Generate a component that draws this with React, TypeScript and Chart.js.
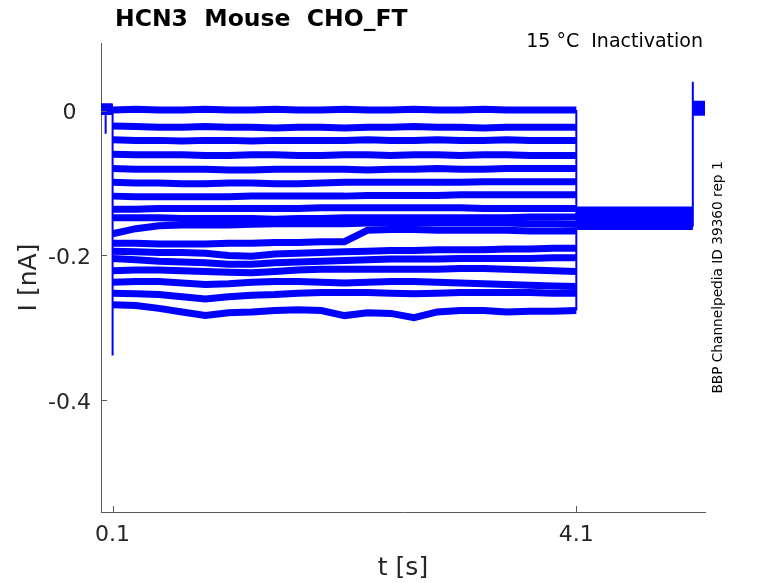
import React, { useEffect, useRef } from "react";
import { Chart, registerables } from "chart.js";

Chart.register(...registerables);

// ---- data (nA vs s) ----
const STEP_TIMES = [0.1, 0.3, 0.5, 0.7, 0.9, 1.1, 1.3, 1.5, 1.7, 1.9, 2.1, 2.3, 2.5, 2.7, 2.9, 3.1, 3.3, 3.5, 3.7, 3.9, 4.1];

const TRACE_A = [0.001, 0.002, 0.001, 0.001, 0.002, 0.001, 0.001, 0.002, 0.001, 0.001, 0.002, 0.001, 0.001, 0.002, 0.001, 0.001, 0.002, 0.001, 0.001, 0.001, 0.001];
const TRACE_B = [-0.021, -0.022, -0.023, -0.023, -0.022, -0.023, -0.023, -0.024, -0.023, -0.023, -0.024, -0.023, -0.023, -0.022, -0.023, -0.023, -0.024, -0.023, -0.023, -0.023, -0.023];
const TRACE_C = [-0.040, -0.041, -0.041, -0.042, -0.041, -0.041, -0.042, -0.041, -0.041, -0.041, -0.041, -0.040, -0.041, -0.041, -0.040, -0.041, -0.041, -0.040, -0.041, -0.041, -0.041];
const TRACE_D = [-0.060, -0.061, -0.061, -0.061, -0.062, -0.062, -0.061, -0.061, -0.062, -0.062, -0.061, -0.061, -0.062, -0.061, -0.061, -0.062, -0.061, -0.061, -0.062, -0.062, -0.062];
const TRACE_E = [-0.080, -0.081, -0.081, -0.081, -0.081, -0.082, -0.082, -0.081, -0.081, -0.081, -0.081, -0.082, -0.081, -0.081, -0.080, -0.081, -0.081, -0.080, -0.080, -0.080, -0.080];
const TRACE_F = [-0.099, -0.100, -0.100, -0.101, -0.101, -0.100, -0.100, -0.101, -0.101, -0.100, -0.099, -0.099, -0.099, -0.099, -0.099, -0.099, -0.098, -0.098, -0.098, -0.098, -0.098];
const TRACE_G = [-0.118, -0.119, -0.119, -0.119, -0.119, -0.119, -0.118, -0.118, -0.118, -0.118, -0.118, -0.117, -0.117, -0.117, -0.117, -0.116, -0.116, -0.116, -0.116, -0.116, -0.116];
const TRACE_H = [-0.136, -0.136, -0.135, -0.135, -0.135, -0.135, -0.135, -0.135, -0.135, -0.134, -0.134, -0.134, -0.134, -0.134, -0.134, -0.134, -0.135, -0.135, -0.135, -0.135, -0.135];
const TRACE_I = [-0.148, -0.148, -0.148, -0.149, -0.149, -0.149, -0.149, -0.150, -0.149, -0.149, -0.148, -0.148, -0.148, -0.148, -0.148, -0.148, -0.148, -0.148, -0.147, -0.147, -0.147];
const TRACE_J = [-0.170, -0.163, -0.159, -0.158, -0.158, -0.158, -0.157, -0.156, -0.156, -0.156, -0.156, -0.155, -0.155, -0.155, -0.155, -0.155, -0.155, -0.155, -0.156, -0.156, -0.157];
const TRACE_K = [-0.183, -0.183, -0.184, -0.184, -0.184, -0.183, -0.183, -0.182, -0.182, -0.181, -0.181, -0.165, -0.164, -0.164, -0.165, -0.165, -0.165, -0.165, -0.166, -0.166, -0.166];
const TRACE_L = [-0.194, -0.195, -0.196, -0.196, -0.197, -0.200, -0.201, -0.198, -0.197, -0.196, -0.195, -0.194, -0.193, -0.193, -0.192, -0.192, -0.192, -0.191, -0.191, -0.190, -0.190];
const TRACE_M = [-0.204, -0.206, -0.208, -0.209, -0.210, -0.212, -0.212, -0.210, -0.209, -0.208, -0.207, -0.206, -0.205, -0.205, -0.205, -0.204, -0.204, -0.204, -0.204, -0.203, -0.203];
const TRACE_N = [-0.221, -0.220, -0.220, -0.221, -0.222, -0.223, -0.224, -0.222, -0.220, -0.219, -0.219, -0.219, -0.219, -0.219, -0.219, -0.218, -0.218, -0.219, -0.220, -0.221, -0.222];
const TRACE_O = [-0.237, -0.236, -0.236, -0.238, -0.240, -0.239, -0.237, -0.236, -0.236, -0.237, -0.238, -0.237, -0.236, -0.236, -0.237, -0.238, -0.239, -0.240, -0.241, -0.242, -0.243];
const TRACE_P = [-0.252, -0.253, -0.254, -0.257, -0.260, -0.257, -0.255, -0.254, -0.252, -0.251, -0.251, -0.251, -0.252, -0.253, -0.252, -0.251, -0.251, -0.251, -0.251, -0.252, -0.252];
const TRACE_Q = [-0.268, -0.269, -0.273, -0.278, -0.283, -0.279, -0.278, -0.276, -0.275, -0.276, -0.283, -0.279, -0.280, -0.286, -0.278, -0.276, -0.276, -0.278, -0.277, -0.277, -0.276];

const STEP_TRACES = [TRACE_A, TRACE_B, TRACE_C, TRACE_D, TRACE_E, TRACE_F, TRACE_G, TRACE_H, TRACE_I, TRACE_J, TRACE_K, TRACE_L, TRACE_M, TRACE_N, TRACE_O, TRACE_P, TRACE_Q];

const PRE_LEVELS = [0.003, 0.001, 0.004, 0.000, 0.002, 0.005, 0.001, 0.003, -0.001, 0.002, 0.004, 0.000, 0.003, 0.002, 0.005, 0.001, 0.002];
const POST_LEVELS = [-0.140, -0.146, -0.152, -0.137, -0.158, -0.144, -0.150, -0.155, -0.141, -0.148, -0.160, -0.143, -0.153, -0.138, -0.156, -0.147, -0.151];
const END_LEVELS = [0.004, 0.008, 0.000, 0.006, 0.002, 0.009, -0.001, 0.005, 0.003, 0.007, 0.001, 0.006, 0.004, -0.002, 0.008, 0.002, 0.005];

const T_START = 0;
const T_STEP_ON = 0.1;
const T_STEP_OFF = 4.1;
const T_TEST_OFF = 5.105;
const T_END = 5.21;
const ARTIFACT_T = 0.04;
const ARTIFACT_I = -0.032;
const ON_TRANSIENT_I = -0.338;
const OFF_TRANSIENT_I = 0.04;

const X_TICKS = [0.1, 4.1];
const Y_TICKS = [0, -0.2, -0.4];
const X_MIN = 0;
const X_MAX = 5.21;
const Y_MIN = -0.5543;
const Y_MAX = 0.0935;

const TITLE = "HCN3  Mouse  CHO_FT";
const SUBTITLE = "15 °C  Inactivation";
const SIDE_TEXT = "BBP Channelpedia ID 39360 rep 1";
const X_LABEL = "t [s]";
const Y_LABEL = "I [nA]";

const BLUE = "#0000ff";
const AXIS_COLOR = "#5a5a5a";
const TEXT_COLOR = "#262626";
const FONT = "'DejaVu Sans', 'Liberation Sans', sans-serif";

type P = { x: number; y: number | null };

function buildDatasets() {
  const sets: any[] = [];
  STEP_TRACES.forEach((trace, i) => {
    const data: P[] = [
      { x: T_START, y: PRE_LEVELS[i] },
      { x: T_STEP_ON, y: PRE_LEVELS[i] },
      { x: T_STEP_ON, y: null },
      ...STEP_TIMES.map((t, k) => ({ x: t, y: trace[k] })),
      { x: T_STEP_OFF, y: null },
      { x: T_STEP_OFF, y: POST_LEVELS[i] },
      { x: T_TEST_OFF, y: POST_LEVELS[i] },
      { x: T_TEST_OFF, y: null },
      { x: T_TEST_OFF, y: END_LEVELS[i] },
      { x: T_END, y: END_LEVELS[i] },
    ];
    sets.push({
      data,
      borderColor: BLUE,
      borderWidth: 7,
      borderCapStyle: "butt",
      pointRadius: 0,
      tension: 0,
      spanGaps: false,
    });
  });
  const conn: P[] = [];
  STEP_TRACES.forEach((trace, i) => {
    conn.push({ x: T_STEP_ON, y: PRE_LEVELS[i] }, { x: T_STEP_ON, y: trace[0] }, { x: T_STEP_ON, y: null });
    conn.push({ x: T_STEP_OFF, y: trace[trace.length - 1] }, { x: T_STEP_OFF, y: POST_LEVELS[i] }, { x: T_STEP_OFF, y: null });
    conn.push({ x: T_TEST_OFF, y: POST_LEVELS[i] }, { x: T_TEST_OFF, y: END_LEVELS[i] }, { x: T_TEST_OFF, y: null });
  });
  conn.push({ x: ARTIFACT_T, y: PRE_LEVELS[0] }, { x: ARTIFACT_T, y: ARTIFACT_I }, { x: ARTIFACT_T, y: null });
  conn.push({ x: T_STEP_ON, y: PRE_LEVELS[16] }, { x: T_STEP_ON, y: ON_TRANSIENT_I }, { x: T_STEP_ON, y: null });
  conn.push({ x: T_TEST_OFF, y: POST_LEVELS[10] }, { x: T_TEST_OFF, y: OFF_TRANSIENT_I });
  sets.push({
    data: conn,
    borderColor: BLUE,
    borderWidth: 2,
    pointRadius: 0,
    tension: 0,
    spanGaps: false,
  });
  return sets;
}

const overlayPlugin = {
  id: "overlay",
  afterDraw(chart: any) {
    const { ctx, chartArea, scales } = chart;
    ctx.save();
    ctx.strokeStyle = AXIS_COLOR;
    ctx.lineWidth = 1;
    X_TICKS.forEach((v) => {
      const px = Math.round(scales.x.getPixelForValue(v)) + 0.5;
      ctx.beginPath();
      ctx.moveTo(px, chartArea.bottom);
      ctx.lineTo(px, chartArea.bottom - 6);
      ctx.stroke();
    });
    Y_TICKS.forEach((v) => {
      const py = Math.round(scales.y.getPixelForValue(v)) + 0.5;
      ctx.beginPath();
      ctx.moveTo(chartArea.left, py);
      ctx.lineTo(chartArea.left + 6, py);
      ctx.stroke();
    });

    ctx.fillStyle = "#000";
    ctx.textBaseline = "alphabetic";
    ctx.textAlign = "left";
    ctx.font = `bold 23.5px ${FONT}`;
    ctx.fillText(TITLE, 115, 26);

    ctx.textAlign = "right";
    ctx.font = `19px ${FONT}`;
    ctx.fillText(SUBTITLE, 703, 47);

    ctx.translate(721.5, 277.5);
    ctx.rotate(-Math.PI / 2);
    ctx.textAlign = "center";
    ctx.font = `13.7px ${FONT}`;
    ctx.fillText(SIDE_TEXT, 0, 0);
    ctx.restore();
  },
};

export default function App() {
  const ref = useRef<HTMLCanvasElement | null>(null);
  useEffect(() => {
    if (!ref.current) return;
    const chart = new Chart(ref.current, {
      type: "line",
      data: { datasets: buildDatasets() },
      options: {
        animation: false,
        responsive: false,
        devicePixelRatio: 1,
        layout: { padding: { left: 0, top: 43, right: 73, bottom: 0 } },
        plugins: {
          legend: { display: false },
          tooltip: { enabled: false },
          title: { display: false },
        },
        scales: {
          x: {
            type: "linear",
            min: X_MIN,
            max: X_MAX,
            grid: { display: false, drawTicks: false },
            border: { display: true, color: AXIS_COLOR, width: 1 },
            afterBuildTicks: (s: any) => {
              s.ticks = X_TICKS.map((v) => ({ value: v }));
            },
            afterFit: (s: any) => {
              s.height = 71;
            },
            ticks: {
              autoSkip: false,
              maxRotation: 0,
              padding: 10,
              color: TEXT_COLOR,
              font: { family: FONT, size: 22 },
              callback: (v: any) => String(v),
            },
            title: {
              display: true,
              text: X_LABEL,
              color: TEXT_COLOR,
              font: { family: FONT, size: 25 },
              padding: { top: 0, bottom: 0 },
            },
          },
          y: {
            type: "linear",
            min: Y_MIN,
            max: Y_MAX,
            grid: { display: false, drawTicks: false },
            border: { display: true, color: AXIS_COLOR, width: 1 },
            afterBuildTicks: (s: any) => {
              s.ticks = Y_TICKS.map((v) => ({ value: v }));
            },
            afterFit: (s: any) => {
              s.width = 101;
            },
            ticks: {
              autoSkip: false,
              padding: 10,
              labelOffset: 2.5,
              crossAlign: "center",
              color: TEXT_COLOR,
              font: { family: FONT, size: 22 },
              callback: (v: any) => String(v),
            },
            title: {
              display: true,
              text: Y_LABEL,
              color: TEXT_COLOR,
              font: { family: FONT, size: 25 },
              padding: { top: 14, bottom: 0 },
            },
          },
        },
      },
      plugins: [overlayPlugin],
    } as any);
    return () => chart.destroy();
  }, []);
  return (
    <div style={{ position: "fixed", left: 0, top: 0, width: 778, height: 583, background: "#fff" }}>
      <canvas ref={ref} width={778} height={583} style={{ display: "block", width: 778, height: 583 }} />
    </div>
  );
}
